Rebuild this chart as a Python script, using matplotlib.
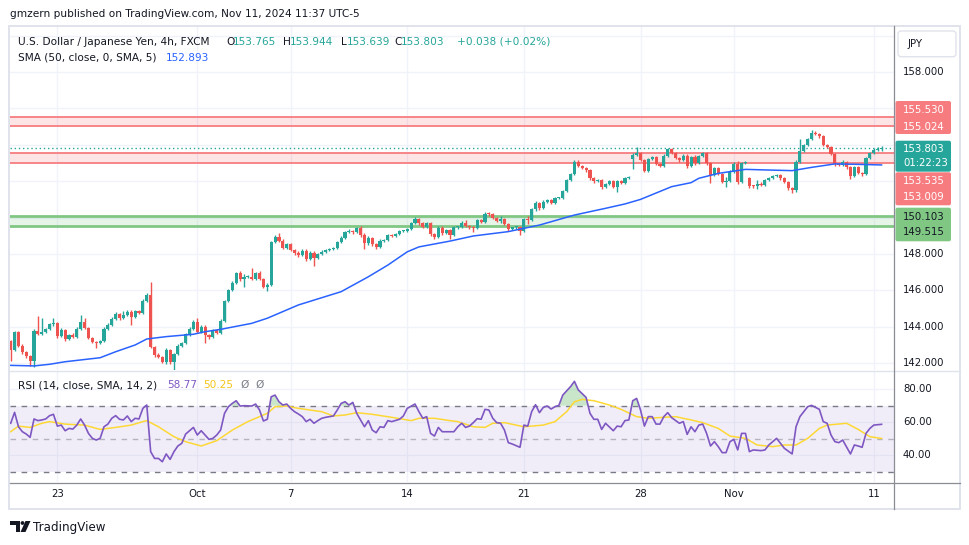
import matplotlib
matplotlib.use("Agg")
import matplotlib.pyplot as plt
from matplotlib.patches import Rectangle, FancyBboxPatch, Polygon, Circle
from matplotlib.lines import Line2D
import numpy as np

# ---- data (USD/JPY 4h candles, index 0 = first visible bar) ----
closes = [
    142.75, 143.70, 142.96, 142.60, 142.40, 142.12, 143.77, 143.62, 143.73, 143.88,   # 0-9
    144.13, 144.20, 143.50, 143.83, 143.31, 143.57, 143.45, 143.87, 144.28, 143.92,   # 10-19
    143.40, 143.18, 143.12, 143.20, 143.90, 144.12, 144.45, 144.70, 144.50, 144.65,   # 20-29
    144.80, 144.52, 144.85, 144.78, 145.40, 145.75, 142.90, 142.45, 142.36, 142.08,   # 30-39
    142.72, 142.08, 142.50, 142.95, 143.13, 143.60, 143.90, 144.28, 143.73, 144.00,   # 40-49
    143.55, 143.42, 143.80, 143.68, 144.34, 145.40, 146.02, 146.41, 146.95, 146.64,   # 50-59
    146.75, 146.76, 146.63, 146.94, 146.63, 146.17, 146.30, 148.64, 148.95, 148.72,   # 60-69
    148.35, 148.53, 148.22, 148.07, 147.95, 148.17, 147.72, 148.07, 147.76, 147.98,   # 70-79
    148.13, 148.22, 148.26, 148.35, 148.68, 148.90, 149.23, 149.28, 149.19, 149.41,   # 80-89
    149.04, 148.58, 148.90, 148.53, 148.40, 148.70, 148.79, 149.04, 149.00, 149.08,   # 90-99
    149.26, 149.28, 149.37, 149.69, 149.92, 149.68, 149.50, 149.68, 149.08, 148.95,   # 100-109
    149.45, 149.15, 149.32, 149.04, 149.46, 149.50, 149.72, 149.54, 149.46, 149.43,   # 110-119
    149.87, 149.78, 150.20, 150.18, 149.96, 149.83, 149.90, 149.65, 149.36, 149.46,   # 120-129
    149.47, 149.28, 149.90, 149.85, 150.45, 150.82, 150.51, 150.88, 150.97, 150.82,   # 130-139
    151.06, 151.08, 151.46, 152.06, 152.38, 153.07, 152.83, 152.74, 152.60, 152.16,   # 140-149
    152.00, 152.06, 151.66, 151.83, 152.03, 151.70, 151.99, 151.92, 152.16, 152.20,   # 150-159
    153.44, 153.57, 153.17, 152.58, 153.20, 153.31, 152.95, 152.85, 153.39, 153.75,   # 160-169
    153.53, 153.29, 153.16, 153.39, 152.84, 153.35, 152.98, 153.39, 153.53, 152.98,   # 170-179
    152.34, 152.71, 152.40, 151.98, 152.03, 152.52, 152.95, 151.97, 153.00, 153.03,   # 180-189
    151.74, 151.72, 151.85, 151.79, 152.07, 152.16, 152.29, 152.34, 152.16, 151.97,   # 190-199
    151.61, 151.52, 153.07, 153.68, 153.99, 154.30, 154.67, 154.60, 154.48, 153.99,   # 200-209
    153.90, 153.50, 152.95, 152.89, 153.07, 152.76, 152.29, 152.76, 152.47, 152.40,   # 210-219
    153.26, 153.53, 153.71, 153.765, 153.803,                                         # 220-224
]
first_open = 143.20
gap_opens = {160: 153.20, 190: 152.15}

wick_up = [
    0.05, 0.07, 0.05, 0.10, 0.05, 0.05, 0.10, 0.80, 0.75, 0.08,
    0.08, 0.27, 0.06, 0.10, 0.05, 0.06, 0.08, 0.10, 0.37, 0.20,
    0.06, 0.05, 0.05, 0.06, 0.08, 0.10, 0.08, 0.12, 0.08, 0.20,
    0.10, 0.12, 0.10, 0.06, 0.10, 0.12, 0.73, 0.05, 0.10, 0.06,
    0.10, 0.06, 0.05, 0.08, 0.06, 0.08, 0.10, 0.08, 0.19, 0.10,
    0.08, 0.06, 0.06, 0.05, 0.08, 0.06, 0.08, 0.10, 0.08, 0.10,
    0.15, 0.10, 0.45, 0.08, 0.10, 0.05, 0.10, 0.06, 0.10, 0.18,
    0.08, 0.10, 0.10, 0.06, 0.10, 0.08, 0.08, 0.12, 0.10, 0.06,
    0.08, 0.06, 0.05, 0.06, 0.05, 0.08, 0.06, 0.10, 0.05, 0.08,
    0.12, 0.10, 0.08, 0.06, 0.06, 0.10, 0.06, 0.08, 0.05, 0.06,
    0.05, 0.06, 0.05, 0.08, 0.10, 0.08, 0.06, 0.10, 0.08, 0.06,
    0.08, 0.10, 0.08, 0.06, 0.08, 0.06, 0.10, 0.15, 0.06, 0.08,
    0.08, 0.06, 0.10, 0.10, 0.06, 0.06, 0.20, 0.06, 0.08, 0.05,
    0.06, 0.06, 0.10, 0.20, 0.06, 0.10, 0.06, 0.08, 0.06, 0.06,
    0.06, 0.06, 0.08, 0.06, 0.08, 0.10, 0.08, 0.05, 0.06, 0.06,
    0.06, 0.06, 0.06, 0.08, 0.06, 0.06, 0.06, 0.06, 0.06, 0.06,
    0.10, 0.33, 0.06, 0.06, 0.10, 0.10, 0.06, 0.06, 0.08, 0.08,
    0.06, 0.06, 0.06, 0.08, 0.10, 0.06, 0.08, 0.06, 0.06, 0.08,
    0.06, 0.08, 0.08, 0.06, 0.20, 0.08, 0.10, 0.15, 0.06, 0.08,
    0.08, 0.06, 0.20, 0.08, 0.06, 0.06, 0.06, 0.06, 0.06, 0.06,
    0.06, 0.06, 0.10, 0.62, 0.08, 0.08, 0.12, 0.08, 0.06, 0.06,
    0.06, 0.06, 0.06, 0.06, 0.08, 0.06, 0.06, 0.08, 0.06, 0.06,
    0.08, 0.10, 0.10, 0.12, 0.141,
]
wick_dn = [
    0.65, 0.06, 0.05, 0.08, 0.10, 0.26, 0.31, 0.06, 0.08, 0.06,
    0.06, 0.08, 0.10, 0.06, 0.08, 0.06, 0.06, 0.08, 0.06, 0.06,
    0.08, 0.08, 0.27, 0.06, 0.06, 0.06, 0.08, 0.06, 0.10, 0.08,
    0.06, 0.40, 0.06, 0.08, 0.06, 0.06, 0.08, 0.10, 0.10, 0.08,
    0.10, 0.10, 0.78, 0.06, 0.06, 0.06, 0.08, 0.06, 0.08, 0.06,
    0.45, 0.08, 0.06, 0.06, 0.08, 0.06, 0.06, 0.08, 0.06, 0.10,
    0.45, 0.08, 0.06, 0.08, 0.06, 0.06, 0.22, 0.06, 0.06, 0.06,
    0.08, 0.06, 0.08, 0.10, 0.10, 0.06, 0.08, 0.06, 0.40, 0.06,
    0.06, 0.06, 0.05, 0.06, 0.06, 0.05, 0.06, 0.06, 0.08, 0.06,
    0.08, 0.31, 0.06, 0.08, 0.10, 0.06, 0.06, 0.06, 0.06, 0.05,
    0.06, 0.05, 0.05, 0.06, 0.06, 0.06, 0.08, 0.06, 0.10, 0.12,
    0.06, 0.10, 0.06, 0.23, 0.06, 0.06, 0.06, 0.06, 0.08, 0.20,
    0.06, 0.06, 0.06, 0.08, 0.06, 0.08, 0.15, 0.06, 0.10, 0.06,
    0.06, 0.24, 0.06, 0.20, 0.06, 0.06, 0.08, 0.06, 0.06, 0.08,
    0.06, 0.06, 0.06, 0.06, 0.06, 0.06, 0.06, 0.06, 0.08, 0.10,
    0.08, 0.06, 0.10, 0.06, 0.06, 0.08, 0.27, 0.06, 0.06, 0.06,
    0.55, 0.06, 0.08, 0.10, 0.06, 0.06, 0.08, 0.08, 0.06, 0.06,
    0.06, 0.08, 0.08, 0.06, 0.10, 0.06, 0.08, 0.06, 0.06, 0.08,
    0.42, 0.06, 0.08, 0.10, 0.30, 0.06, 0.06, 0.10, 0.06, 0.06,
    0.10, 0.08, 0.15, 0.08, 0.06, 0.06, 0.06, 0.06, 0.08, 0.08,
    0.08, 0.15, 0.10, 0.06, 0.06, 0.06, 0.06, 0.06, 0.08, 0.08,
    0.06, 0.08, 0.10, 0.08, 0.06, 0.08, 0.15, 0.06, 0.08, 0.10,
    0.06, 0.06, 0.06, 0.06, 0.126,
]

# SMA(50) read at a few bars
sma_idx = [0, 6, 10, 14, 23, 27, 32, 35, 40, 47, 50, 54, 62, 66, 74, 85, 92, 97, 102, 105,
           109, 113, 119, 128, 136, 145, 153, 158, 162, 170, 175, 177, 182, 189, 194, 201,
           206, 212, 217, 224]
sma_val = [141.88, 141.85, 141.94, 142.08, 142.30, 142.63, 143.00, 143.33, 143.46, 143.59,
           143.73, 143.86, 144.19, 144.47, 145.20, 145.93, 146.75, 147.39, 148.12, 148.39,
           148.55, 148.71, 148.99, 149.23, 149.59, 150.14, 150.51, 150.75, 151.00, 151.70,
           151.92, 152.16, 152.43, 152.65, 152.62, 152.58, 152.76, 152.95, 152.93, 152.893]

# RSI(14)
rsi_idx = [0, 1, 2, 3, 4, 5, 6, 7, 8, 9, 10, 11, 12, 13, 14, 15, 16, 17, 18, 19,
           20, 21, 22, 23, 24, 25, 26, 27, 28, 29, 30, 31, 32, 33, 34, 35, 36, 37, 38, 39,
           40, 41, 42, 43, 44, 45, 46, 47, 48, 49, 50, 51, 52, 53, 54, 55, 56, 57, 58, 59,
           60, 62, 63, 64, 65, 66, 67, 68, 69, 70, 71, 72, 73, 74, 75, 76, 77, 78, 79, 80,
           81, 82, 83, 84, 85, 86, 87, 88, 89, 91, 92, 93, 94, 95, 96, 97, 98, 100, 101, 102,
           104, 105, 106, 107, 108, 109, 110, 111, 112, 114, 115, 116, 117, 118, 119, 120, 121, 122, 123, 124,
           125, 126, 127, 128, 129, 131, 132, 133, 134, 135, 136, 137, 138, 139, 140, 141, 142, 144, 145, 146,
           148, 149, 150, 151, 152, 153, 155, 156, 157, 158, 159, 160, 161, 162, 163, 164, 165, 166, 167, 168,
           169, 170, 172, 173, 174, 175, 176, 177, 178, 179, 180, 181, 182, 183, 184, 185, 186, 187, 188, 189,
           190, 191, 193, 194, 195, 197, 198, 199, 201, 202, 203, 204, 205, 206, 208, 209, 210, 211, 212, 213,
           214, 216, 217, 218, 219, 220, 221, 222, 224]
rsi_val = [59.4, 66.0, 57.3, 54.3, 52.9, 50.9, 62.0, 61.0, 61.4, 62.0, 64.0, 64.8, 57.7, 58.3, 54.9, 56.3, 55.9, 58.3, 62.0, 58.3,
           53.3, 50.3, 49.3, 50.3, 57.3, 58.9, 62.4, 64.0, 61.8, 61.4, 63.8, 60.4, 62.4, 62.0, 68.4, 70.4, 42.3, 38.2, 38.2, 36.2,
           40.9, 37.6, 42.3, 45.7, 47.3, 52.9, 54.9, 56.9, 52.3, 54.9, 52.3, 49.7, 50.3, 52.3, 55.3, 65.4, 69.4, 71.4, 73.0, 69.8,
           70.0, 69.8, 71.0, 67.4, 60.8, 61.8, 75.4, 76.4, 72.4, 70.4, 71.0, 68.4, 66.4, 65.0, 63.4, 60.4, 61.8, 59.4, 61.0, 62.4,
           63.0, 63.4, 63.8, 67.4, 71.4, 72.4, 70.4, 72.0, 65.4, 57.3, 61.0, 55.3, 53.7, 57.3, 56.9, 61.0, 60.4, 61.8, 63.8, 68.4,
           71.0, 66.4, 62.4, 63.4, 53.3, 51.7, 56.9, 54.3, 54.3, 54.3, 57.3, 59.4, 56.9, 57.7, 59.8, 62.2, 61.8, 67.8, 67.4, 62.4,
           59.8, 59.4, 55.3, 47.7, 46.9, 44.9, 58.3, 57.7, 66.4, 70.6, 65.8, 69.0, 69.8, 68.0, 69.4, 70.2, 76.4, 81.5, 84.7, 79.5,
           75.0, 65.4, 61.8, 61.8, 55.7, 59.4, 54.9, 57.7, 57.3, 61.0, 61.4, 73.0, 74.4, 67.4, 57.7, 63.4, 63.4, 58.9, 58.9, 63.4,
           65.8, 62.8, 59.4, 60.4, 52.7, 57.3, 54.3, 58.3, 58.9, 53.3, 45.7, 48.3, 45.3, 41.7, 41.7, 48.3, 49.7, 43.3, 53.3, 53.3,
           42.3, 43.3, 42.9, 43.3, 46.3, 50.3, 47.3, 44.3, 40.9, 57.3, 63.4, 66.4, 69.4, 70.2, 67.8, 60.4, 59.4, 52.3, 48.3, 47.7,
           49.3, 40.9, 46.3, 45.7, 44.9, 53.3, 56.3, 58.3, 58.77]

# RSI-based MA (14)
rsi_ma_idx = [0, 2, 5, 8, 10, 14, 19, 23, 27, 31, 34, 35, 38, 42, 45, 49, 53, 57, 61, 66,
              68, 71, 74, 80, 83, 86, 89, 93, 98, 103, 105, 109, 113, 115, 119, 122, 124, 127, 130, 132,
              137, 140, 143, 145, 147, 150, 154, 157, 161, 164, 168, 171, 175, 178, 182, 185, 189, 192, 196, 199,
              202, 205, 208, 210, 215, 218, 221, 224]
rsi_ma_val = [54.3, 57.7, 56.9, 59.4, 60.4, 58.9, 58.3, 55.7, 56.9, 58.3, 60.4, 61.0, 57.3, 51.3, 48.3, 45.7, 48.9, 55.3, 60.4, 65.4,
              69.4, 69.8, 68.4, 66.4, 63.8, 64.4, 65.8, 64.8, 63.0, 61.0, 62.4, 62.4, 61.0, 60.4, 57.3, 56.9, 59.4, 59.8, 58.3, 57.3,
              58.3, 60.4, 66.4, 72.4, 73.8, 73.0, 70.4, 67.8, 63.4, 62.4, 63.0, 63.4, 61.4, 59.8, 56.3, 51.7, 50.3, 46.3, 45.3, 46.3,
              46.3, 50.3, 56.3, 58.3, 59.4, 55.7, 51.3, 50.25]

zones_red = [(155.024, 155.530), (153.009, 153.535)]
zone_green = (149.515, 150.103)
last_price = 153.803
price_ticks = [158, 148, 146, 144, 142]
rsi_ticks = [80, 60, 40]
date_pos = [12, 48, 72, 102, 132, 162, 186, 222]
date_lab = ["23", "Oct", "7", "14", "21", "28", "Nov", "11"]

GREEN = "#26a69a"
RED = "#ef5350"
TXT = "#131722"
GRID = "#f0f3fa"

W, H = 970, 545
plt.rcParams['font.family'] = ['DejaVu Sans']
fig = plt.figure(figsize=(W / 100, H / 100), dpi=100)
fig.patch.set_facecolor("white")


def fx(x):
    return x / W


def fy(y):
    return 1 - y / H


X0, X1 = 10, 894
ax = fig.add_axes([fx(X0), fy(370), fx(X1) - fx(X0), fy(27) - fy(370)])
rx = fig.add_axes([fx(X0), fy(482), fx(X1) - fx(X0), fy(371) - fy(482)])
for a in (ax, rx):
    a.set_xlim(-0.18, 227.2)
    for s in a.spines.values():
        s.set_visible(False)
    a.set_xticks([])
    a.set_yticks([])
    for d in date_pos:
        a.axvline(d, color=GRID, lw=1, zorder=0)
ax.set_ylim(141.626, 160.473)
rx.set_ylim(23.98, 90.93)

# price grid
for p in range(142, 161, 2):
    ax.axhline(p, color=GRID, lw=1, zorder=0)

# zones
for lo_, hi_ in zones_red:
    ax.axhspan(lo_, hi_, color="#f23645", alpha=0.13, lw=0, zorder=1)
    ax.axhline(lo_, color="#f77c80", lw=1.3, zorder=1.5)
    ax.axhline(hi_, color="#f77c80", lw=1.3, zorder=1.5)
ax.axhspan(zone_green[0], zone_green[1], color="#4caf50", alpha=0.13, lw=0, zorder=1)
ax.axhline(zone_green[0], color="#81c784", lw=2, zorder=1.5)
ax.axhline(zone_green[1], color="#81c784", lw=2, zorder=1.5)

# candles
c = np.array(closes)
idx = np.arange(len(c))
o = np.empty_like(c)
o[0] = first_open
o[1:] = c[:-1]
for k, v in gap_opens.items():
    o[k] = v
top = np.maximum(o, c)
bot = np.minimum(o, c)
hi = top + np.array(wick_up)
lo = bot - np.array(wick_dn)
col = np.where(c >= o, GREEN, RED)
ax.vlines(idx, lo, hi, colors=col, lw=1.0, zorder=3)
ax.bar(idx, np.maximum(top - bot, 0.055), bottom=bot, width=0.8, color=col, lw=0, zorder=4)

ax.plot(sma_idx, sma_val, color="#2962ff", lw=1.1, zorder=5)
ax.axhline(last_price, color=GREEN, lw=1, ls=(0, (1, 2)), zorder=2)

# RSI panel
for g in (40, 60, 80):
    rx.axhline(g, color=GRID, lw=1, zorder=0)
rx.axhspan(30, 70, color="#7e57c2", alpha=0.1, lw=0, zorder=0.5)
rx.axhline(70, color="#787b86", lw=1, ls=(0, (4, 4)), zorder=1)
rx.axhline(30, color="#787b86", lw=1, ls=(0, (4, 4)), zorder=1)
rx.axhline(50, color="#787b86", lw=1, ls=(0, (4, 4)), alpha=0.5, zorder=1)
rv = np.array(rsi_val)
rx.fill_between(rsi_idx, rv, 70, where=rv > 70, interpolate=True, color="#4caf50", alpha=0.3, lw=0, zorder=1.5)
rx.plot(rsi_ma_idx, rsi_ma_val, color="#fdd835", lw=1.1, zorder=2)
rx.plot(rsi_idx, rsi_val, color="#7e57c2", lw=1.2, zorder=3)

# frame and separators
fig.add_artist(Rectangle((fx(9.5), fy(509)), fx(960) - fx(9.5), fy(26) - fy(509),
                         transform=fig.transFigure, fill=False, ec="#e0e3eb", lw=1.4))
fig.add_artist(Line2D([fx(10), fx(960)], [fy(370.5), fy(370.5)], transform=fig.transFigure, color="#e0e3eb", lw=1))
fig.add_artist(Line2D([fx(10), fx(960)], [fy(482.5), fy(482.5)], transform=fig.transFigure, color="#8a8d96", lw=0.9))
fig.add_artist(Line2D([fx(894.3), fx(894.3)], [fy(26), fy(509)], transform=fig.transFigure, color="#8a8d96", lw=0.9))

# right axis labels
for p in price_ticks:
    y = 72 + (158 - p) * 18.2
    fig.text(fx(903), fy(y), f"{p:.3f}", fontsize=7.3, color=TXT, va="center", ha="left")
for r in rsi_ticks:
    y = 405.7 - (r - 70) * 1.658
    fig.text(fx(903), fy(y), f"{r:.2f}", fontsize=7.3, color=TXT, va="center", ha="left")

# price boxes
boxes = [
    (101, 134, "#f77c80", "white", ["155.530", "155.024"], [110, 126.7]),
    (140.7, 171.7, GREEN, "white", ["153.803", "01:22:23"], [149, 163.3]),
    (172.3, 205.3, "#f77c80", "white", ["153.535", "153.009"], [180.7, 196.7]),
    (207.7, 241.3, "#81c784", TXT, ["150.103", "149.515"], [216.7, 232.3]),
]
for y0, y1, fc, tc, labs, ys in boxes:
    fig.add_artist(FancyBboxPatch((895.5, H - y1), 55.5, y1 - y0, boxstyle="round,pad=0,rounding_size=2",
                                  transform=None, fc=fc, ec="none"))
    for lab, yy in zip(labs, ys):
        fig.text(fx(903), fy(yy), lab, fontsize=7.3, color=tc, va="center", ha="left")
fig.add_artist(FancyBboxPatch((898, H - 56.7), 58, 25.7, boxstyle="round,pad=0,rounding_size=3",
                              transform=None, fc="white", ec="#e0e3eb", lw=1))
fig.text(fx(908), fy(44), "JPY", fontsize=7.3, color=TXT, va="center", ha="left")

# date labels
for d, lab in zip(date_pos, date_lab):
    fig.text(fx(10.7 + d * 3.888), fy(494), lab, fontsize=7.3, color=TXT, va="center", ha="center")

# title and legends
fig.text(fx(10), fy(14), "gmzern published on TradingView.com, Nov 11, 2024 11:37 UTC-5",
         fontsize=7.6, color=TXT, va="center", ha="left")
leg1 = [(18, "U.S. Dollar / Japanese Yen, 4h, FXCM", TXT), (226.7, "O", TXT), (233.3, "153.765", GREEN),
        (283.3, "H", TXT), (290, "153.944", GREEN), (340.7, "L", TXT), (346.7, "153.639", GREEN),
        (394, "C", TXT), (400.5, "153.803", GREEN), (457, "+0.038 (+0.02%)", GREEN)]
for x, t, cc in leg1:
    fig.text(fx(x), fy(42), t, fontsize=7.6, color=cc, va="center", ha="left")
fig.text(fx(18), fy(58), "SMA (50, close, 0, SMA, 5)", fontsize=7.6, color=TXT, va="center", ha="left")
fig.text(fx(166), fy(58), "152.893", fontsize=7.6, color="#2962ff", va="center", ha="left")
leg3 = [(18, "RSI (14, close, SMA, 14, 2)", TXT), (166.7, "58.77", "#7e57c2"), (203.3, "50.25", "#f5c518"),
        (240, "Ø", "#787b86"), (255, "Ø", "#787b86")]
for x, t, cc in leg3:
    fig.text(fx(x), fy(385), t, fontsize=7.6, color=cc, va="center", ha="left")

# TradingView logo
fig.add_artist(Polygon([(10, H - 521), (19.5, H - 521), (19.5, H - 532), (15.5, H - 532), (15.5, H - 525),
                        (10, H - 525)], closed=True, transform=None, fc=TXT, ec="none"))
fig.add_artist(Circle((22.5, H - 523), 1.9, transform=None, fc=TXT, ec="none"))
fig.add_artist(Polygon([(25.5, H - 521), (30.5, H - 521), (25.5, H - 532), (20.5, H - 532)], closed=True,
                       transform=None, fc=TXT, ec="none"))
fig.text(fx(33), fy(527), "TradingView", fontsize=8.6, color=TXT, va="center", ha="left")

fig.savefig("out.png", dpi=100)
